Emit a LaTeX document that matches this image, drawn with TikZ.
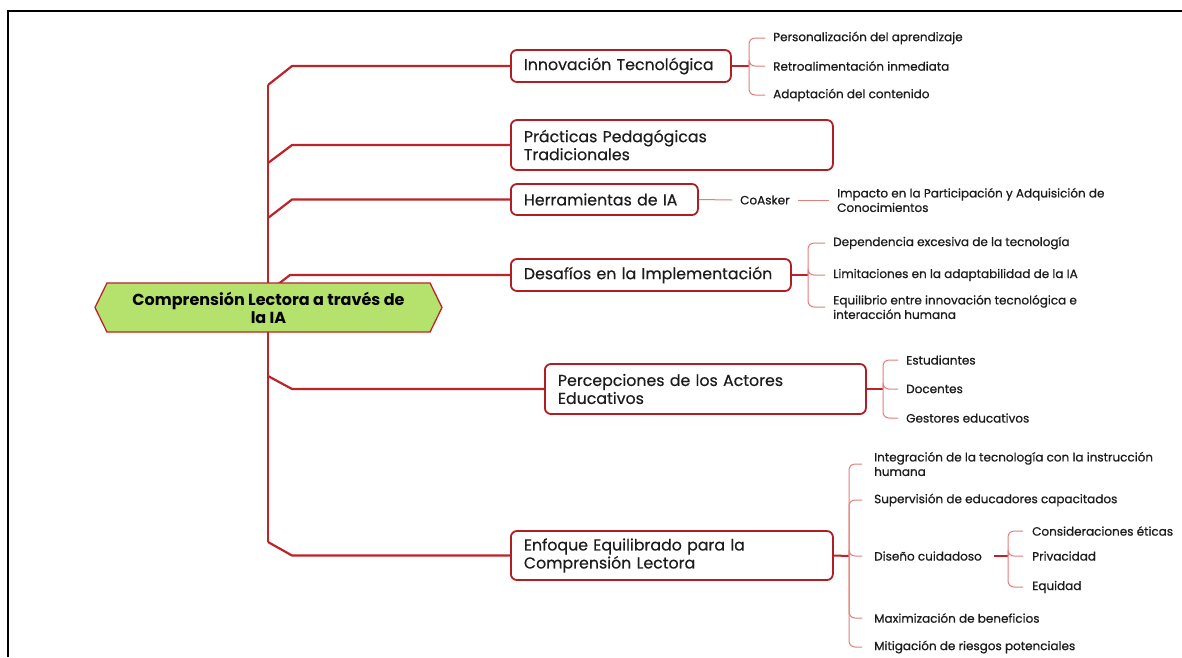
\documentclass[tikz,border=0pt]{standalone}
\usepackage{fontspec}
\setmainfont{Poppins}
\newfontfamily\boxfont[FakeBold=0.35]{Poppins}
\newfontfamily\leaffont[FakeBold=0.7]{Poppins}
\usetikzlibrary{shapes.symbols}
\definecolor{boxred}{RGB}{176,30,36}
\definecolor{trunkred}{RGB}{190,35,40}
\definecolor{thinred}{RGB}{228,125,125}
\definecolor{hexgreen}{RGB}{180,226,108}
\definecolor{ink}{RGB}{28,28,28}
\begin{document}
\begin{tikzpicture}[x=1pt,y=-1pt,
  mainbox/.style={draw=boxred,line width=1.8pt,rounded corners=6pt,fill=white,anchor=west,align=left,inner xsep=13pt,inner ysep=0pt,font=\boxfont\fontsize{15.8}{18}\selectfont,text=ink},
  leaf/.style={anchor=west,inner xsep=8pt,inner ysep=1pt,align=left,font=\leaffont\fontsize{12}{14.5}\selectfont,text=ink},
  trunk/.style={draw=trunkred,line width=2.2pt},
  thickc/.style={draw=trunkred,line width=2pt},
  thinc/.style={draw=thinred,line width=1pt,rounded corners=6pt},
  rootnode/.style={shape=signal,signal to=west and east,signal pointer angle=128,draw=trunkred,line width=1.3pt,fill=hexgreen,minimum width=347pt,minimum height=49pt,inner sep=0pt,align=center,font=\bfseries\fontsize{16}{18}\selectfont,text=black}
]
\fill[white] (0,0) rectangle (1182,657);
\useasboundingbox (0,0) rectangle (1182,657);

% main boxes
\node[mainbox,text width=194pt,minimum height=32pt] (innov) at (510,66) {Innovación Tecnológica};
\node[mainbox,text width=296pt,minimum height=50pt] (pract) at (510,145) {Prácticas Pedagógicas\\Tradicionales};
\node[mainbox,text width=161pt,minimum height=31pt] (herr) at (510,199.5) {Herramientas de IA};
\node[mainbox,text width=254pt,minimum height=32pt] (desaf) at (510,275) {Desafíos en la Implementación};
\node[mainbox,text width=295pt,minimum height=50pt] (perc) at (544,389) {Percepciones de los Actores\\Educativos};
\node[mainbox,text width=296pt,minimum height=49pt] (enfo) at (510,555.5) {Enfoque Equilibrado para la\\Comprensión Lectora};

% trunk
\coordinate (tTop) at (268,85);
\coordinate (tBot) at (268,542);
\coordinate (tD) at (268,292);
\coordinate (tP) at (268,376);
\coordinate (tH) at (268,218);
\coordinate (tPr) at (268,163);
\draw[trunk] (tTop) -- (tBot);
\draw[trunk,line join=round] (tTop) -- (292,66) -- (innov.west);
\draw[trunk,line join=round] (tPr) -- (292,145) -- (pract.west);
\draw[trunk,line join=round] (tH) -- (292,199.5) -- (herr.west);
\draw[trunk,line join=round] (tD) -- (290,275) -- (desaf.west);
\draw[trunk,line join=round] (tP) -- (292,389) -- (perc.west);
\draw[trunk,line join=round] (tBot) -- (292,555.5) -- (enfo.west);

% root
\node[rootnode] (root) at (268.5,307.5) {Comprensión Lectora a través de\\la IA};

% Innovacion children
\coordinate (jI) at (749,66);
\node[leaf] (i1) at (765,38) {Personalización del aprendizaje};
\node[leaf] (i2) at (765,66) {Retroalimentación inmediata};
\node[leaf] (i3) at (765,95) {Adaptación del contenido};
\draw[thickc] (innov.east) -- (jI);
\foreach \c in {i1,i2,i3} \draw[thinc] (jI) |- (\c.west);

% Herramientas children
\node[leaf] (coasker) at (732,200) {CoAsker};
\node[leaf] (impacto) at (829,200) {Impacto en la Participación y Adquisición de\\Conocimientos};
\draw[thinc] (herr.east) -- (coasker.west);
\draw[thinc] (coasker.east) -- (impacto.west);

% Desafios children
\coordinate (jDf) at (808,275);
\node[leaf] (d1) at (825,243) {Dependencia excesiva de la tecnología};
\node[leaf] (d2) at (825,275) {Limitaciones en la adaptabilidad de la IA};
\node[leaf] (d3) at (825,307) {Equilibrio entre innovación tecnológica e\\interacción humana};
\draw[thickc] (desaf.east) -- (jDf);
\foreach \c in {d1,d2,d3} \draw[thinc] (jDf) |- (\c.west);

% Percepciones children
\coordinate (jP) at (883,389);
\node[leaf] (p1) at (898,360) {Estudiantes};
\node[leaf] (p2) at (898,389) {Docentes};
\node[leaf] (p3) at (898,418) {Gestores educativos};
\draw[thickc] (perc.east) -- (jP);
\foreach \c in {p1,p2,p3} \draw[thinc] (jP) |- (\c.west);

% Enfoque children
\coordinate (jE) at (849,556);
\node[leaf,inner xsep=12pt] (e1) at (862,464) {Integración de la tecnología con la instrucción\\humana};
\node[leaf,inner xsep=12pt] (e2) at (862,500) {Supervisión de educadores capacitados};
\node[leaf,inner xsep=12pt] (e3) at (862,556) {Diseño cuidadoso};
\node[leaf,inner xsep=12pt] (e4) at (862,618) {Maximización de beneficios};
\node[leaf,inner xsep=12pt] (e5) at (862,647) {Mitigación de riesgos potenciales};
\draw[thickc] (enfo.east) -- (jE);
\foreach \c in {e1,e2,e3,e4,e5} \draw[thinc] (jE) |- (\c.west);

% Diseno children
\coordinate (jDs) at (1008,556);
\node[leaf,inner xsep=9pt] (s1) at (1023,531) {Consideraciones éticas};
\node[leaf,inner xsep=9pt] (s2) at (1023,556) {Privacidad};
\node[leaf,inner xsep=9pt] (s3) at (1023,587) {Equidad};
\draw[thickc] (e3.east) -- (jDs);
\foreach \c in {s1,s2,s3} \draw[thinc] (jDs) |- (\c.west);

% frame
\draw[black,line width=2pt] (8,657) -- (8,11) -- (1182,11);
\end{tikzpicture}
\end{document}
